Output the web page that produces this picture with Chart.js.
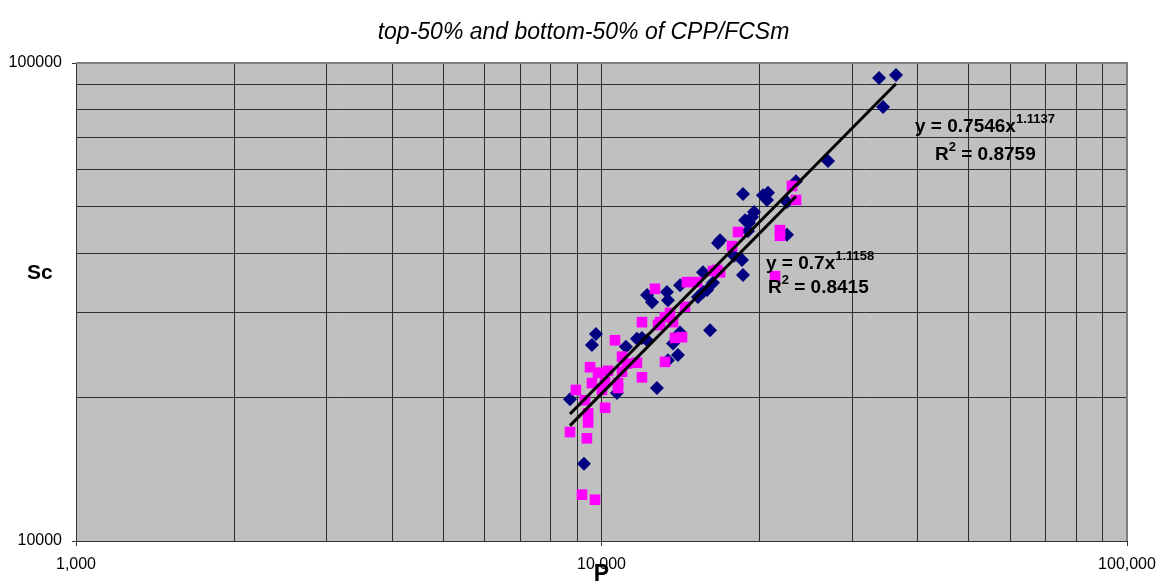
<!DOCTYPE html>
<html>
<head>
<meta charset="utf-8">
<title>top-50% and bottom-50% of CPP/FCSm</title>
<script src="https://cdn.jsdelivr.net/npm/chart.js@4.4.0/dist/chart.umd.min.js"></script>
<style>
    html, body { margin: 0; padding: 0; background: #fff; }
    #wrap { width: 1167px; height: 588px; }
</style>
</head>
<body>
<div id="wrap"><canvas id="scChart" width="1167" height="588"></canvas></div>
<script>
// top-50% of CPP/FCSm
const topP = [36340, 33740, 34340, 26980, 23450, 20740, 20290, 18590, 20650, 22540,
    19510, 19340, 18760, 19090, 19000, 22540, 16810, 16660, 18510, 17870,
    18590, 15600, 16300, 15880, 15600, 15260, 14110, 13320, 13380, 12210,
    12480, 16090, 14110, 13680, 13980, 13380, 12210, 11940, 11680, 11130,
    9760, 9590, 12750, 10700, 8710, 9260];
const topSc = [94400, 93000, 80900, 62400, 56600, 53500, 52900, 53200, 51700, 51200,
    48800, 47600, 46900, 46300, 44500, 43700, 42600, 42000, 38700, 39500,
    36000, 36500, 34700, 33500, 33200, 32400, 34300, 33200, 31900, 32700,
    31600, 27600, 27300, 25900, 24500, 23900, 26300, 26600, 26500, 25500,
    27100, 25700, 20900, 20400, 19800, 14500];

// bottom-50% of CPP/FCSm
const bottomP = [23040, 23450, 21860, 21860, 18190, 17720, 16590, 21390, 16300, 16810,
    14540, 15190, 12640, 14420, 13500, 13210, 12920, 13680, 12810, 11940,
    13800, 14230, 13210, 10610, 10940, 11180, 11680, 9510, 9850, 10290,
    10940, 11940, 9590, 10160, 10750, 10750, 10020, 8940, 9300, 10160,
    9430, 9430, 8710, 9380, 9180, 9720];
const bottomSc = [55300, 51700, 44700, 43500, 44300, 41400, 36900, 35800, 36700, 36500,
    34800, 34800, 33700, 30900, 30000, 29400, 28700, 28700, 28300, 28700,
    26600, 26700, 23700, 26300, 24300, 23500, 23600, 23100, 22500, 22700,
    22600, 22000, 21400, 21500, 21400, 20900, 20700, 20700, 19700, 19000,
    18500, 17700, 16900, 16400, 12500, 12200];

// power trendlines y = a * x^b  (top, bottom)
const fitA = [0.7546, 0.7];
const fitB = [1.1137, 1.1158];
const fitR2 = ['0.8759', '0.8415'];

// axes
const xGrid = [1000, 2000, 3000, 4000, 5000, 6000, 7000, 8000, 9000,
    10000, 20000, 30000, 40000, 50000, 60000, 70000, 80000, 90000, 100000];
const xTicks = [1000, 10000, 100000];
const xTickLabels = ['1,000', '10,000', '100,000'];
const yGrid = [10000, 20000, 30000, 40000, 50000, 60000, 70000, 80000, 90000, 100000];
const yTicks = [10000, 100000];
const yTickLabels = ['10000', '100000'];

const FONT = '"Liberation Sans", Arial, sans-serif';

function toPoints(xs, ys) {
    return xs.map((x, i) => ({ x: x, y: ys[i] }));
}

function fitLine(xs, k) {
    const lo = Math.min(...xs);
    const hi = Math.max(...xs);
    return [lo, hi].map(x => ({ x: x, y: fitA[k] * Math.pow(x, fitB[k]) }));
}

// text with a superscript part, left aligned at x, baseline y
function supText(ctx, x, y, parts, size) {
    let cx = x;
    parts.forEach(p => {
        if (p.sup) {
            ctx.font = 'bold ' + Math.round(size * 0.66) + 'px ' + FONT;
            ctx.fillText(p.t, cx, y - size * 0.45);
        } else {
            ctx.font = 'bold ' + size + 'px ' + FONT;
            ctx.fillText(p.t, cx, y);
        }
        cx += ctx.measureText(p.t).width;
    });
}

const plotDecor = {
    id: 'plotDecor',
    beforeDraw(chart) {
        const { ctx, chartArea: a } = chart;
        ctx.save();
        ctx.fillStyle = '#c0c0c0';
        ctx.fillRect(a.left, a.top, a.right - a.left, a.bottom - a.top);
        ctx.restore();
    },
    afterDraw(chart) {
        const { ctx, chartArea: a } = chart;
        ctx.save();
        // frame on top and right
        ctx.strokeStyle = '#808080';
        ctx.lineWidth = 2;
        ctx.beginPath();
        ctx.moveTo(a.left, a.top);
        ctx.lineTo(a.right, a.top);
        ctx.lineTo(a.right, a.bottom);
        ctx.stroke();

        ctx.fillStyle = '#000';
        ctx.textAlign = 'center';
        ctx.textBaseline = 'middle';
        ctx.font = 'italic 23px ' + FONT;
        ctx.fillText('top-50% and bottom-50% of CPP/FCSm', chart.width / 2, 33);

        ctx.textAlign = 'left';
        ctx.font = 'bold 21px ' + FONT;
        ctx.fillText('Sc', 27, 273);

        ctx.textBaseline = 'alphabetic';
        supText(ctx, 915, 132, [{ t: 'y = ' + fitA[0] + 'x' }, { t: String(fitB[0]), sup: true }], 19);
        supText(ctx, 935, 160, [{ t: 'R' }, { t: '2', sup: true }, { t: ' = ' + fitR2[0] }], 19);
        supText(ctx, 766, 269, [{ t: 'y = ' + fitA[1] + 'x' }, { t: String(fitB[1]), sup: true }], 19);
        supText(ctx, 768, 293, [{ t: 'R' }, { t: '2', sup: true }, { t: ' = ' + fitR2[1] }], 19);
        ctx.restore();
    }
};

const ctx = document.getElementById('scChart').getContext('2d');

new Chart(ctx, {
    type: 'scatter',
    data: {
        datasets: [
            {
                label: 'top-50%',
                data: toPoints(topP, topSc),
                pointStyle: 'rectRot',
                pointRadius: 7,
                backgroundColor: '#000080',
                borderColor: '#000080',
                borderWidth: 0,
                order: 2
            },
            {
                label: 'bottom-50%',
                data: toPoints(bottomP, bottomSc),
                pointStyle: 'rect',
                pointRadius: 7.5,
                backgroundColor: '#ff00ff',
                borderColor: '#ff00ff',
                borderWidth: 0,
                order: 1
            },
            {
                label: 'Power (top-50%)',
                data: fitLine(topP, 0),
                showLine: true,
                pointRadius: 0,
                borderColor: '#000',
                borderWidth: 3,
                order: 0
            },
            {
                label: 'Power (bottom-50%)',
                data: fitLine(bottomP, 1),
                showLine: true,
                pointRadius: 0,
                borderColor: '#000',
                borderWidth: 3,
                order: 0
            }
        ]
    },
    options: {
        responsive: false,
        animation: false,
        layout: { padding: { top: 63, right: 40, left: 0, bottom: 0 } },
        plugins: {
            legend: { display: false },
            tooltip: { enabled: false },
            title: { display: false }
        },
        scales: {
            x: {
                type: 'logarithmic',
                min: 1000,
                max: 100000,
                afterBuildTicks: scale => {
                    scale.ticks = xGrid.map(v => ({ value: v }));
                },
                afterFit: scale => { scale.height = 47; },
                ticks: {
                    autoSkip: false,
                    maxRotation: 0,
                    color: '#000',
                    padding: 9,
                    font: { family: FONT, size: 16 },
                    callback: v => {
                        const i = xTicks.indexOf(v);
                        return i >= 0 ? xTickLabels[i] : '';
                    }
                },
                grid: {
                    color: '#2e2e2e',
                    lineWidth: 1,
                    tickLength: 5,
                    tickColor: c => xTicks.includes(c.tick.value) ? '#333' : 'rgba(0,0,0,0)'
                },
                border: { color: '#333', width: 1 },
                title: {
                    display: true,
                    text: 'P',
                    color: '#000',
                    padding: { top: 0, bottom: 2 },
                    font: { family: FONT, size: 23, weight: 'bold', lineHeight: 1 }
                }
            },
            y: {
                type: 'logarithmic',
                min: 10000,
                max: 100000,
                afterBuildTicks: scale => {
                    scale.ticks = yGrid.map(v => ({ value: v }));
                },
                afterFit: scale => { scale.width = 76; },
                ticks: {
                    autoSkip: false,
                    color: '#000',
                    padding: 10,
                    font: { family: FONT, size: 16 },
                    callback: v => {
                        const i = yTicks.indexOf(v);
                        return i >= 0 ? yTickLabels[i] : '';
                    }
                },
                grid: {
                    color: '#2e2e2e',
                    lineWidth: 1,
                    tickLength: 4,
                    tickColor: c => yTicks.includes(c.tick.value) ? '#333' : 'rgba(0,0,0,0)'
                },
                border: { color: '#333', width: 1 }
            }
        }
    },
    plugins: [plotDecor]
});
</script>
</body>
</html>
